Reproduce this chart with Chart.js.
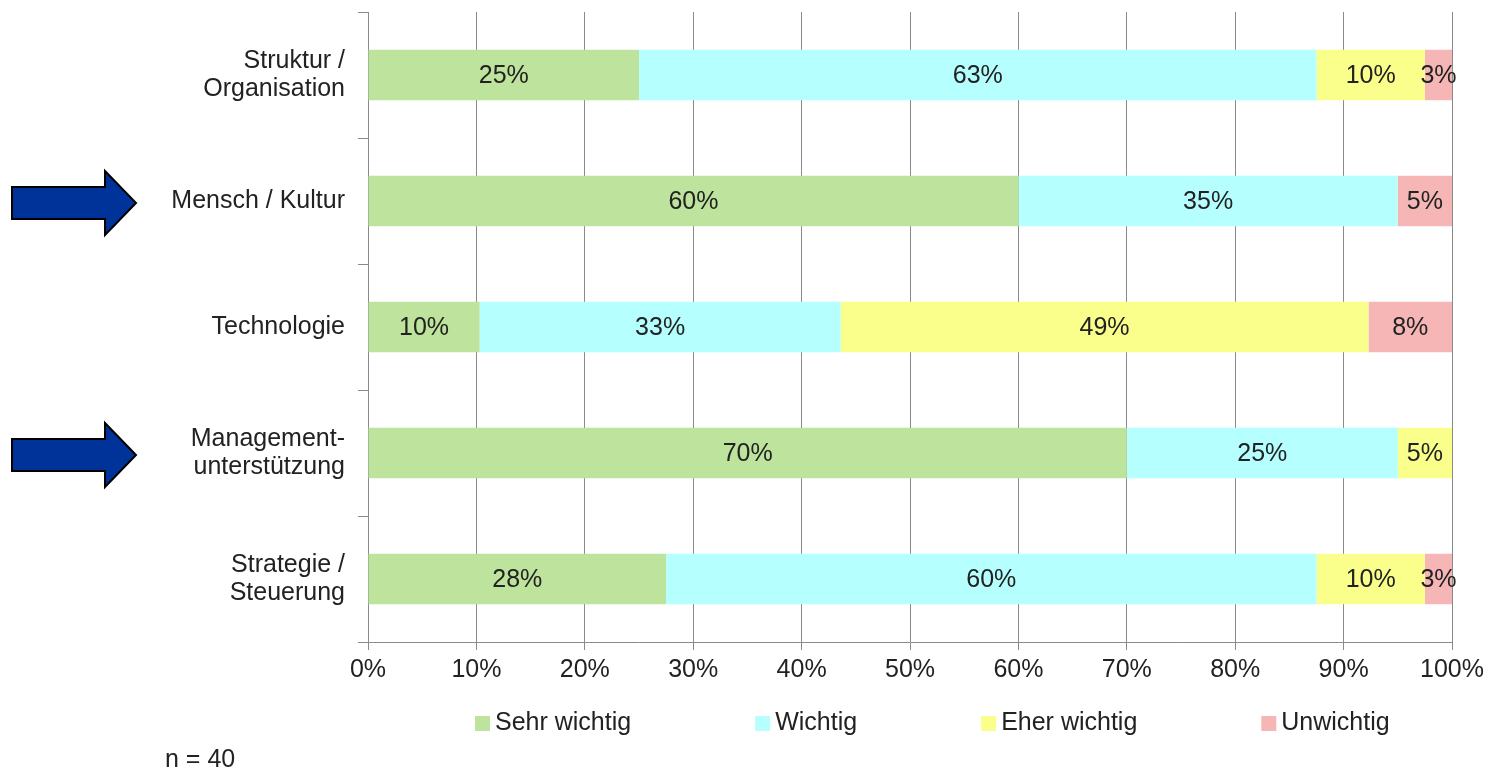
<!DOCTYPE html>
<html>
<head>
<meta charset="utf-8">
<script src="https://cdn.jsdelivr.net/npm/chart.js@4/dist/chart.umd.min.js"></script>
<style>
    html, body { margin: 0; padding: 0; background: #fff; }
    #wrap { width: 1491px; height: 771px; position: relative; }
</style>
</head>
<body>
<div id="wrap"><canvas id="chart"></canvas></div>
<script>
// categories (top to bottom)
const categories = [
    ['Struktur /', 'Organisation'],
    'Mensch / Kultur',
    'Technologie',
    ['Management-', 'unterstützung'],
    ['Strategie /', 'Steuerung']
];
// shares in percent
const sehrWichtig  = [25, 60, 10.3, 70, 27.5];
const wichtig      = [62.5, 35, 33.3, 25, 60];
const eherWichtig  = [10, 0, 48.7, 5, 10];
const unwichtig    = [2.5, 5, 7.7, 0, 2.5];
const seriesNames = ['Sehr wichtig', 'Wichtig', 'Eher wichtig', 'Unwichtig'];
const xTicks = [0, 10, 20, 30, 40, 50, 60, 70, 80, 90, 100];
const markedCategories = [1, 3];  // the ones with blue arrows
const sampleNote = 'n = 40';

const FONT = '"Liberation Sans", Arial, sans-serif';
const TEXT = '#222';

// Value labels inside the bar segments
const segmentLabels = {
    id: 'segmentLabels',
    afterDatasetsDraw(chart) {
        const ctx = chart.ctx;
        ctx.save();
        ctx.font = '25px ' + FONT;
        ctx.fillStyle = TEXT;
        ctx.textAlign = 'center';
        ctx.textBaseline = 'middle';
        chart.data.datasets.forEach((ds, i) => {
            chart.getDatasetMeta(i).data.forEach((bar, j) => {
                const v = ds.data[j];
                if (!v) return;
                ctx.fillText(Math.round(v) + '%', (bar.x + bar.base) / 2, bar.y + 1);
            });
        });
        ctx.restore();
    }
};

// Legend, arrows and the n note
const extras = {
    id: 'extras',
    afterDraw(chart) {
        const ctx = chart.ctx;
        const yScale = chart.scales.y;
        ctx.save();

        // arrows
        markedCategories.forEach(idx => {
            const cy = yScale.getPixelForValue(idx) + 2;
            ctx.beginPath();
            ctx.moveTo(12, cy - 16);
            ctx.lineTo(105, cy - 16);
            ctx.lineTo(105, cy - 32);
            ctx.lineTo(136, cy);
            ctx.lineTo(105, cy + 32);
            ctx.lineTo(105, cy + 16);
            ctx.lineTo(12, cy + 16);
            ctx.closePath();
            ctx.fillStyle = '#003399';
            ctx.fill();
            ctx.lineWidth = 2;
            ctx.strokeStyle = '#000';
            ctx.stroke();
        });

        // legend
        ctx.font = '25px ' + FONT;
        ctx.textBaseline = 'middle';
        ctx.textAlign = 'left';
        let x = 475;
        const ly = 723;
        chart.data.datasets.forEach(ds => {
            ctx.fillStyle = ds.backgroundColor;
            ctx.fillRect(x, ly - 7, 15, 15);
            x += 20;
            ctx.fillStyle = TEXT;
            ctx.fillText(ds.label, x, ly);
            x += ctx.measureText(ds.label).width + 124;
        });

        // n
        ctx.fillText(sampleNote, 165, 760);
        ctx.restore();
    }
};

new Chart(document.getElementById('chart'), {
    type: 'bar',
    data: {
        labels: categories,
        datasets: [
            { label: seriesNames[0], data: sehrWichtig, backgroundColor: '#bde39c' },
            { label: seriesNames[1], data: wichtig, backgroundColor: '#b5ffff' },
            { label: seriesNames[2], data: eherWichtig, backgroundColor: '#f9ff8a' },
            { label: seriesNames[3], data: unwichtig, backgroundColor: '#f6b6b6' }
        ]
    },
    options: {
        indexAxis: 'y',
        responsive: true,
        maintainAspectRatio: false,
        animation: false,
        layout: { padding: { top: 12, right: 39, bottom: 89, left: 0 } },
        datasets: { bar: { categoryPercentage: 1, barPercentage: 0.4 } },
        plugins: {
            legend: { display: false },
            tooltip: { enabled: false }
        },
        scales: {
            x: {
                stacked: true,
                min: 0,
                max: 100,
                afterBuildTicks: s => { s.ticks = xTicks.map(v => ({ value: v })); },
                afterFit: s => { s.height = 40; },
                ticks: {
                    callback: v => v + '%',
                    font: { family: FONT, size: 25 },
                    color: TEXT,
                    padding: 5,
                    maxRotation: 0
                },
                grid: { color: '#8a8a8a', lineWidth: 1, tickLength: 8 },
                border: { color: '#8a8a8a' }
            },
            y: {
                stacked: true,
                afterFit: s => { s.width = 368; s.paddingTop = 0; s.paddingBottom = 0; },
                ticks: {
                    font: { family: FONT, size: 25, lineHeight: 1.1 },
                    color: TEXT,
                    padding: 13
                },
                grid: { drawOnChartArea: false, color: '#8a8a8a', tickLength: 10, offset: true },
                border: { color: '#8a8a8a' }
            }
        }
    },
    plugins: [segmentLabels, extras]
});
</script>
</body>
</html>
